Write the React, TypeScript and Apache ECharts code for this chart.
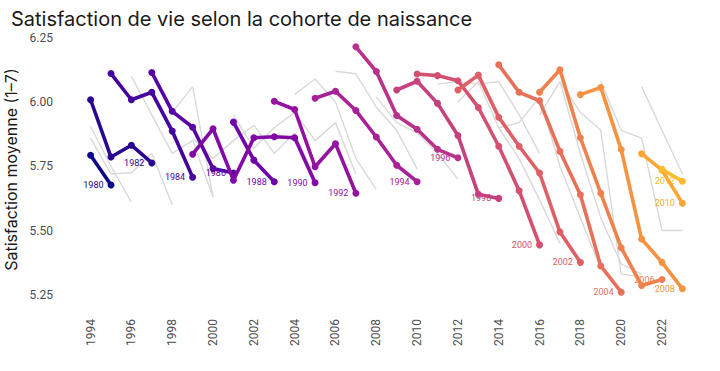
import React, { useEffect, useRef } from "react";
import * as echarts from "echarts";

// Highlighted (even) birth cohorts
const cohorts = [1980, 1982, 1984, 1986, 1988, 1990, 1992, 1994, 1996, 1998, 2000, 2002, 2004, 2006, 2008, 2010, 2012];
const cohortStart = [1994, 1994, 1995, 1997, 2001, 1999, 2003, 2005, 2007, 2009, 2010, 2012, 2014, 2016, 2018, 2021, 2022];
const v1980 = [5.793, 5.677];
const v1982 = [6.009, 5.786, 5.832, 5.763];
const v1984 = [6.111, 6.009, 6.038, 5.887, 5.707];
const v1986 = [6.115, 5.964, 5.902, 5.741, 5.724];
const v1988 = [5.922, 5.774, 5.69];
const v1990 = [5.797, 5.896, 5.696, 5.861, 5.865, 5.861, 5.686];
const v1992 = [6.003, 5.971, 5.748, 5.838, 5.645];
const v1994 = [6.015, 6.042, 5.967, 5.864, 5.754, 5.69];
const v1996 = [6.215, 6.119, 5.948, 5.894, 5.816, 5.783];
const v1998 = [6.047, 6.081, 5.995, 5.87, 5.641, 5.625];
const v2000 = [6.109, 6.103, 6.083, 5.979, 5.828, 5.655, 5.444];
const v2002 = [6.047, 6.105, 5.941, 5.828, 5.724, 5.494, 5.376];
const v2004 = [6.145, 6.038, 6.005, 5.808, 5.639, 5.362, 5.26];
const v2006 = [6.038, 6.126, 5.861, 5.645, 5.433, 5.286, 5.309];
const v2008 = [6.029, 6.057, 5.815, 5.467, 5.376, 5.273];
const v2010 = [5.799, 5.735, 5.606];
const v2012 = [5.738, 5.692];
const cohortValues = [v1980, v1982, v1984, v1986, v1988, v1990, v1992, v1994, v1996, v1998, v2000, v2002, v2004, v2006, v2008, v2010, v2012];

// Background (odd) cohorts
const grayCohorts = [1981, 1983, 1985, 1987, 1989, 1991, 1993, 1995, 1997, 1999, 2001, 2003, 2005, 2007, 2009, 2011];
const grayStart = [1994, 1994, 1996, 1998, 1999, 2001, 2004, 2006, 2008, 2011, 2012, 2014, 2016, 2017, 2019, 2021];
const g1981 = [5.905, 5.75, 5.61];
const g1983 = [5.86, 5.72, 5.725, 5.8, 5.6];
const g1985 = [6.1, 5.95, 5.8, 5.85, 5.63];
const g1987 = [5.96, 6.06, 5.63];
const g1989 = [5.86, 5.78, 5.85, 5.91, 5.8, 5.88, 5.7];
const g1991 = [5.95, 5.82, 5.9, 5.96, 5.85, 5.92, 5.72];
const g1993 = [6.03, 6.09, 6.0, 5.78, 5.66];
const g1995 = [6.12, 6.11, 5.98, 5.89, 5.74];
const g1997 = [6.02, 5.92, 5.88, 5.8, 5.7];
const g1999 = [6.07, 6.08, 6.07, 6.08, 5.95, 5.8];
const g2001 = [6.0, 6.08, 5.9, 5.78, 5.62, 5.45];
const g2003 = [5.9, 5.92, 6.02, 5.75, 5.55, 5.35];
const g2005 = [5.95, 6.08, 5.8, 5.55, 5.37, 5.33];
const g2007 = [6.08, 5.96, 5.89, 5.33, 5.32];
const g2009 = [6.08, 5.89, 5.86, 5.5, 5.5];
const g2011 = [6.06, 5.89, 5.72];
const grayValues = [g1981, g1983, g1985, g1987, g1989, g1991, g1993, g1995, g1997, g1999, g2001, g2003, g2005, g2007, g2009, g2011];

const yTicks = [5.25, 5.5, 5.75, 6.0, 6.25];
const xTicks = [1994, 1996, 1998, 2000, 2002, 2004, 2006, 2008, 2010, 2012, 2014, 2016, 2018, 2020, 2022];

const plasmaStops = ["#0d0887", "#41049d", "#6a00a8", "#8f0da4", "#b12a90", "#cc4778", "#e16462", "#f2844b", "#fca636", "#fcce25", "#f0f921"];
function hexToRgb(h: string) {
  const n = parseInt(h.slice(1), 16);
  return [(n >> 16) & 255, (n >> 8) & 255, n & 255];
}
function plasma(t: number) {
  const p = Math.max(0, Math.min(1, t)) * 10;
  const i = Math.min(9, Math.floor(p));
  const f = p - i;
  const a = hexToRgb(plasmaStops[i]);
  const b = hexToRgb(plasmaStops[i + 1]);
  const c = a.map((x, k) => Math.round(x + (b[k] - x) * f));
  return `rgb(${c[0]},${c[1]},${c[2]})`;
}

export default function App() {
  const ref = useRef<HTMLDivElement>(null);
  useEffect(() => {
    if (!ref.current) return;
    const chart = echarts.init(ref.current, undefined, { renderer: "svg" });
    const series: any[] = [];
    grayCohorts.forEach((c, i) => {
      series.push({
        name: "g" + c,
        type: "line",
        data: grayValues[i].map((v, k) => [grayStart[i] + k, v]),
        symbol: "none",
        lineStyle: { color: "#d9d9d9", width: 1.4 },
        z: 1,
        silent: true,
      });
    });
    cohorts.forEach((c, i) => {
      const color = plasma((i / (cohorts.length - 1)) * 0.85);
      const vals = cohortValues[i];
      series.push({
        name: String(c),
        type: "line",
        data: vals.map((v, k) => {
          const item: any = { value: [cohortStart[i] + k, v] };
          if (k === vals.length - 1) {
            item.label = {
              show: true,
              position: "left",
              distance: 4,
              formatter: String(c),
              color,
              fontSize: 9,
              fontFamily: "Roboto",
            };
          }
          return item;
        }),
        symbol: "circle",
        symbolSize: 7,
        itemStyle: { color },
        lineStyle: { color, width: 3.6 },
        z: 2 + i,
        clip: false,
      });
    });
    chart.setOption({
      animation: false,
      backgroundColor: "#ffffff",
      title: {
        text: "Satisfaction de vie selon la cohorte de naissance",
        left: 6,
        top: 4,
        textStyle: { fontSize: 20, fontWeight: "normal", color: "#1a1a1a", fontFamily: "Inter" },
      },
      grid: { left: 61, right: 8, top: 34, bottom: 66, containLabel: false, outerBoundsMode: "none" },
      xAxis: {
        type: "value",
        min: 1992.55,
        max: 2024.45,
        axisLine: { show: false },
        axisTick: { show: false },
        splitLine: { show: false },
        axisLabel: {
          customValues: xTicks,
          rotate: 90,
          margin: 14,
          fontSize: 12,
          color: "#4d4d4d",
          fontFamily: "Roboto",
          formatter: (v: number) => String(v),
        },
      },
      yAxis: {
        type: "value",
        min: 5.21,
        max: 6.265,
        name: "Satisfaction moyenne (1–7)",
        nameLocation: "middle",
        nameRotate: 90,
        nameGap: 41,
        nameTextStyle: { fontSize: 16, color: "#1a1a1a", fontFamily: "Inter" },
        axisLine: { show: false },
        axisTick: { show: false },
        splitLine: { show: false },
        axisLabel: {
          customValues: yTicks,
          margin: 8,
          fontSize: 12,
          color: "#4d4d4d",
          fontFamily: "Roboto",
          formatter: (v: number) => v.toFixed(2),
        },
      },
      series,
    });
    return () => chart.dispose();
  }, []);
  return <div ref={ref} style={{ position: "fixed", left: 0, top: 0, width: 720, height: 371 }} />;
}
